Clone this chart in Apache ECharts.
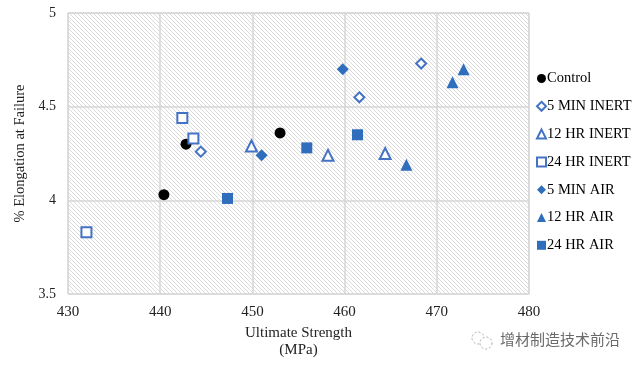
<!DOCTYPE html>
<html>
<head>
<meta charset="utf-8">
<script src="https://cdn.jsdelivr.net/npm/echarts@6/dist/echarts.min.js"></script>
<style>
html,body{margin:0;padding:0;background:#fff;}
#chart{width:639px;height:366px;}
</style>
</head>
<body>
<div id="chart"></div>
<script>
// ---- data ----
var seriesNames = ['Control', '5 MIN INERT', '12 HR INERT', '24 HR INERT', '5 MIN AIR', '12 HR AIR', '24 HR AIR'];
var controlX = [440.4, 442.8, 453.0];
var controlY = [4.03, 4.30, 4.36];
var min5InertX = [444.4, 461.6, 468.3];
var min5InertY = [4.26, 4.55, 4.73];
var hr12InertX = [449.9, 458.2, 464.4];
var hr12InertY = [4.29, 4.24, 4.25];
var hr24InertX = [442.4, 443.6, 432.0];
var hr24InertY = [4.44, 4.33, 3.83];
var min5AirX = [451.0, 459.8];
var min5AirY = [4.24, 4.70];
var hr12AirX = [466.7, 471.7, 472.9];
var hr12AirY = [4.19, 4.63, 4.70];
var hr24AirX = [447.3, 455.9, 461.4];
var hr24AirY = [4.01, 4.28, 4.35];
var xTicks = [430, 440, 450, 460, 470, 480];
var yTicks = [3.5, 4, 4.5, 5];

function pairs(xs, ys) { return xs.map(function (x, i) { return [x, ys[i]]; }); }

// hatch pattern for plot background
var pc = document.createElement('canvas');
pc.width = 4; pc.height = 4;
var g = pc.getContext('2d');
g.fillStyle = '#ffffff'; g.fillRect(0, 0, 4, 4);
g.strokeStyle = '#dadada'; g.lineWidth = 1;
g.beginPath();
g.moveTo(-1, -1); g.lineTo(5, 5);
g.moveTo(-1, 3); g.lineTo(1, 5);
g.moveTo(3, -1); g.lineTo(5, 1);
g.stroke();

var serif = '"Liberation Serif", "Times New Roman", serif';
var blue = '#2F6EBD';
var outline = '#4472C4';
var hollow = { color: '#ffffff', borderColor: outline, borderWidth: 2, opacity: 1 };
var filled = { color: blue, opacity: 1 };

var chart = echarts.init(document.getElementById('chart'), null, { renderer: 'canvas' });
chart.setOption({
  animation: false,
  backgroundColor: '#ffffff',
  grid: {
    left: 68, right: 110, top: 13, bottom: 72,
    show: true,
    backgroundColor: { image: pc, repeat: 'repeat' },
    borderColor: '#d9d9d9', borderWidth: 1
  },
  legend: {
    orient: 'vertical',
    left: 531, top: 66,
    itemWidth: 9, itemHeight: 9, itemGap: 12.8,
    textStyle: { fontFamily: serif, fontSize: 14.5, color: '#000', lineHeight: 14, padding: [0, 0, 0, -4] },
    data: seriesNames
  },
  xAxis: {
    type: 'value', min: 430, max: 480, interval: 10,
    name: 'Ultimate Strength\n(MPa)', nameLocation: 'middle', nameGap: 28.5,
    nameTextStyle: { fontFamily: serif, fontSize: 15, color: '#222', lineHeight: 17 },
    axisLine: { show: false }, axisTick: { show: false },
    axisLabel: { fontFamily: serif, fontSize: 15, color: '#222', margin: 11 },
    splitLine: { lineStyle: { color: '#d6d6d6', width: 1.5 } }
  },
  yAxis: {
    type: 'value', min: 3.5, max: 5, interval: 0.5,
    name: '% Elongation at Failure', nameLocation: 'middle', nameGap: 35.5,
    nameTextStyle: { fontFamily: serif, fontSize: 14.5, color: '#222' },
    axisLine: { show: false }, axisTick: { show: false },
    axisLabel: { fontFamily: serif, fontSize: 14, color: '#222', margin: 12,
      formatter: function (v) { return yTicks.indexOf(v) >= 0 ? String(v) : ''; } },
    splitLine: { lineStyle: { color: '#d6d6d6', width: 1.5 } }
  },
  series: [
    { name: seriesNames[0], type: 'scatter', symbol: 'circle', symbolSize: 11, itemStyle: { color: '#000', opacity: 1 }, data: pairs(controlX, controlY) },
    { name: seriesNames[1], type: 'scatter', symbol: 'diamond', symbolSize: 10, itemStyle: hollow, data: pairs(min5InertX, min5InertY) },
    { name: seriesNames[2], type: 'scatter', symbol: 'triangle', symbolSize: 11, itemStyle: hollow, data: pairs(hr12InertX, hr12InertY) },
    { name: seriesNames[3], type: 'scatter', symbol: 'rect', symbolSize: 10, itemStyle: hollow, data: pairs(hr24InertX, hr24InertY) },
    { name: seriesNames[4], type: 'scatter', symbol: 'diamond', symbolSize: 12, itemStyle: filled, data: pairs(min5AirX, min5AirY) },
    { name: seriesNames[5], type: 'scatter', symbol: 'triangle', symbolSize: 12, itemStyle: filled, data: pairs(hr12AirX, hr12AirY) },
    { name: seriesNames[6], type: 'scatter', symbol: 'rect', symbolSize: 11, itemStyle: filled, data: pairs(hr24AirX, hr24AirY) }
  ],
  graphic: [
    { type: 'circle', shape: { cx: 478, cy: 338, r: 6 }, style: { fill: 'none', stroke: '#aaa', lineWidth: 1, lineDash: [2, 2] } },
    { type: 'circle', shape: { cx: 486, cy: 343, r: 6 }, style: { fill: '#fff', stroke: '#aaa', lineWidth: 1, lineDash: [2, 2] } },
    { type: 'text', left: 500, top: 332, style: { text: '增材制造技术前沿', fill: '#6a6a6a', font: '15px "Noto Sans CJK SC", sans-serif' } }
  ]
});
</script>
</body>
</html>
